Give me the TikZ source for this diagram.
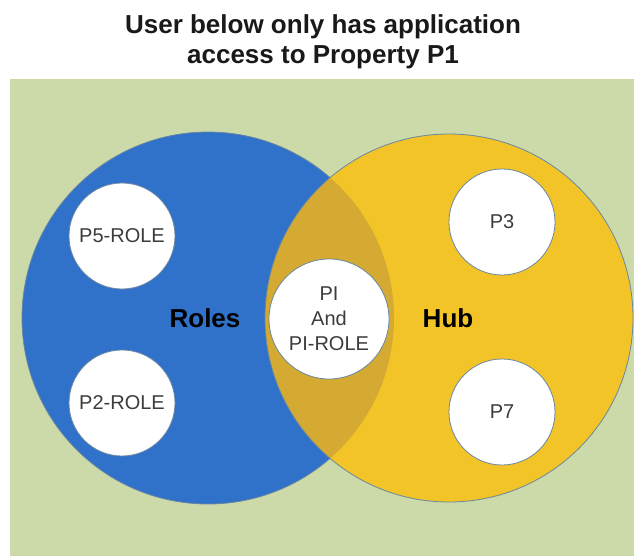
\documentclass[tikz,border=0pt]{standalone}
\usepackage{fontspec}
\setmainfont{Liberation Sans}
\definecolor{bg}{RGB}{204,218,170}
\definecolor{roleblue}{RGB}{48,113,201}
\definecolor{hubyellow}{RGB}{242,196,40}
\definecolor{lens}{RGB}{212,170,50}
\definecolor{edgec}{RGB}{105,135,160}
\definecolor{txt}{RGB}{60,60,60}
\definecolor{titlec}{RGB}{25,25,25}
\begin{document}
\begin{tikzpicture}[x=1pt,y=-1pt,
  setcircle/.style={circle, inner sep=0pt},
  prop/.style={circle, fill=white, draw=edgec, line width=0.8pt, minimum size=106pt, inner sep=0pt, text=txt, font=\fontsize{20}{25}\selectfont, align=center},
  setlabel/.style={font=\bfseries\fontsize{26}{30}\selectfont, text=black}]
\useasboundingbox (0,0) rectangle (634,556);
\fill[white] (0,0) rectangle (634,556);
\fill[bg] (10,79) rectangle (634,556);
\node[titlec, align=center, font=\bfseries\fontsize{26}{30}\selectfont] (title) at (323,42) {User below only has application\\access to Property P1};
% set circles
\node[setcircle, minimum size=372pt, fill=roleblue, draw=edgec, line width=0.8pt] (roles) at (208,318) {};
\node[setcircle, minimum size=368pt, fill=hubyellow] (hub) at (449,318) {};
\begin{scope}
  \clip (208,318) circle[radius=186pt];
  \fill[lens] (449,318) circle[radius=184pt];
\end{scope}
\draw[edgec, line width=0.8pt] (hub.center) circle[radius=184pt];
\node[setlabel] (roleslbl) at (205,318) {Roles};
\node[setlabel] (hublbl) at (448,318) {Hub};
% property circles
\node[prop] (p5) at (122,236) {P5-ROLE};
\node[prop] (p2) at (122,403) {P2-ROLE};
\node[prop] (p3) at (502,222) {P3};
\node[prop] (p7) at (502,412) {P7};
\node[prop, minimum size=120pt] (pone) at (329,319) {PI\\And\\PI-ROLE};
\end{tikzpicture}
\end{document}
